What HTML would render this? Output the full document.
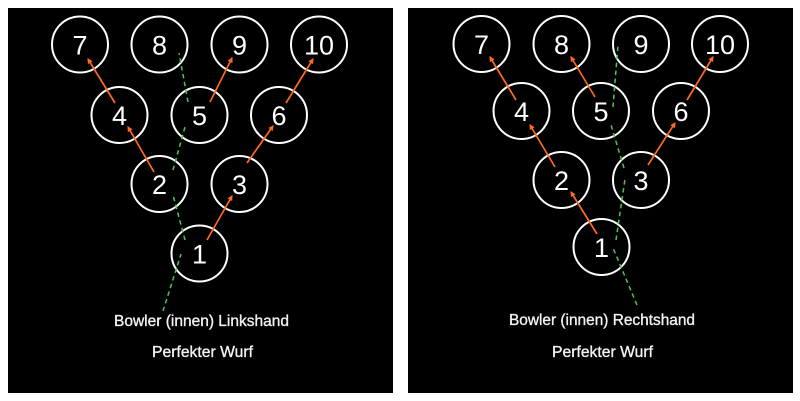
<!DOCTYPE html>
<html><head><meta charset="utf-8"><style>
html,body{margin:0;padding:0;background:#fff;}
svg{display:block;}
</style></head><body>
<svg width="800" height="401" viewBox="0 0 800 401" xmlns="http://www.w3.org/2000/svg">
<defs>
<marker id="ah" viewBox="0 0 10 10" refX="8" refY="5" markerWidth="5.5" markerHeight="5.5" orient="auto" markerUnits="userSpaceOnUse">
<path d="M0,0 L10,5 L0,10 z" fill="#ff6a22"/>
</marker>
</defs>
<rect x="0" y="0" width="800" height="401" fill="#fff"/>
<rect x="8" y="8" width="385" height="385" fill="#000"/>
<rect x="408" y="8" width="385" height="385" fill="#000"/>

<g fill="none" stroke="#fff" stroke-width="2">
<!-- left -->
<circle cx="80" cy="44.5" r="28"/>
<circle cx="159.5" cy="44.5" r="28"/>
<circle cx="239.5" cy="44.5" r="28"/>
<circle cx="319" cy="44.5" r="28"/>
<circle cx="119.5" cy="115" r="28"/>
<circle cx="199.5" cy="115" r="28"/>
<circle cx="279" cy="115" r="28"/>
<circle cx="159.5" cy="184" r="28"/>
<circle cx="239.5" cy="184" r="28"/>
<circle cx="199.5" cy="253.5" r="28"/>
<!-- right -->
<circle cx="481.5" cy="44" r="28"/>
<circle cx="561.5" cy="44" r="28"/>
<circle cx="641" cy="44" r="28"/>
<circle cx="720" cy="44" r="28"/>
<circle cx="521.5" cy="111" r="28"/>
<circle cx="601" cy="111" r="28"/>
<circle cx="681" cy="111" r="28"/>
<circle cx="561.5" cy="180" r="28"/>
<circle cx="641" cy="180" r="28"/>
<circle cx="601.5" cy="247" r="28"/>
</g>

<g fill="#fff" font-family="'Liberation Sans', 'DejaVu Sans', sans-serif" font-size="27" text-anchor="middle">
<text x="80" y="54.5">7</text>
<text x="159.5" y="54.5">8</text>
<text x="239.5" y="54.5">9</text>
<text x="319" y="54.5">10</text>
<text x="119.5" y="125">4</text>
<text x="199.5" y="125">5</text>
<text x="279" y="125">6</text>
<text x="159.5" y="194">2</text>
<text x="239.5" y="194">3</text>
<text x="199.5" y="263.5">1</text>

<text x="481.5" y="54">7</text>
<text x="561.5" y="54">8</text>
<text x="641" y="54">9</text>
<text x="720" y="54">10</text>
<text x="521.5" y="121">4</text>
<text x="601" y="121">5</text>
<text x="681" y="121">6</text>
<text x="561.5" y="190">2</text>
<text x="641" y="190">3</text>
<text x="601.5" y="257">1</text>
</g>

<g stroke="#ff6a22" stroke-width="1.7" fill="none" marker-end="url(#ah)">
<line x1="115" y1="103" x2="88" y2="59"/>
<line x1="154" y1="172" x2="128" y2="127"/>
<line x1="210" y1="102" x2="232" y2="58"/>
<line x1="286" y1="103" x2="313" y2="59"/>
<line x1="247" y1="163" x2="273" y2="126"/>
<line x1="207" y1="240" x2="232" y2="196"/>

<line x1="516" y1="100" x2="490" y2="57"/>
<line x1="555" y1="167" x2="530" y2="125"/>
<line x1="595" y1="97" x2="571" y2="57"/>
<line x1="687" y1="100" x2="713" y2="57"/>
<line x1="648" y1="165" x2="675" y2="123"/>
<line x1="597" y1="234" x2="571" y2="192"/>
</g>

<g stroke="#52c452" stroke-width="1.5" fill="none" stroke-dasharray="4.5 3.5">
<line x1="163" y1="311" x2="181" y2="254"/>
<line x1="185" y1="240" x2="173" y2="195"/>
<line x1="173" y1="170" x2="185" y2="127"/>
<line x1="188" y1="102" x2="179" y2="53"/>

<line x1="637" y1="305" x2="613" y2="248"/>
<line x1="616" y1="240" x2="625" y2="179"/>
<line x1="624" y1="168" x2="611" y2="125"/>
<line x1="613" y1="107" x2="618" y2="45"/>
</g>

<g fill="#f2f2f2" stroke="#f2f2f2" stroke-width="0.35" font-family="'Liberation Sans', 'DejaVu Sans', sans-serif" font-size="15.5" text-anchor="middle">
<text x="201.5" y="326" textLength="175" lengthAdjust="spacingAndGlyphs">Bowler (innen) Linkshand</text>
<text x="202.5" y="357" textLength="101" lengthAdjust="spacingAndGlyphs">Perfekter Wurf</text>
<text x="602" y="325" textLength="186" lengthAdjust="spacingAndGlyphs">Bowler (innen) Rechtshand</text>
<text x="602.5" y="357" textLength="101" lengthAdjust="spacingAndGlyphs">Perfekter Wurf</text>
</g>
</svg>
</body></html>
